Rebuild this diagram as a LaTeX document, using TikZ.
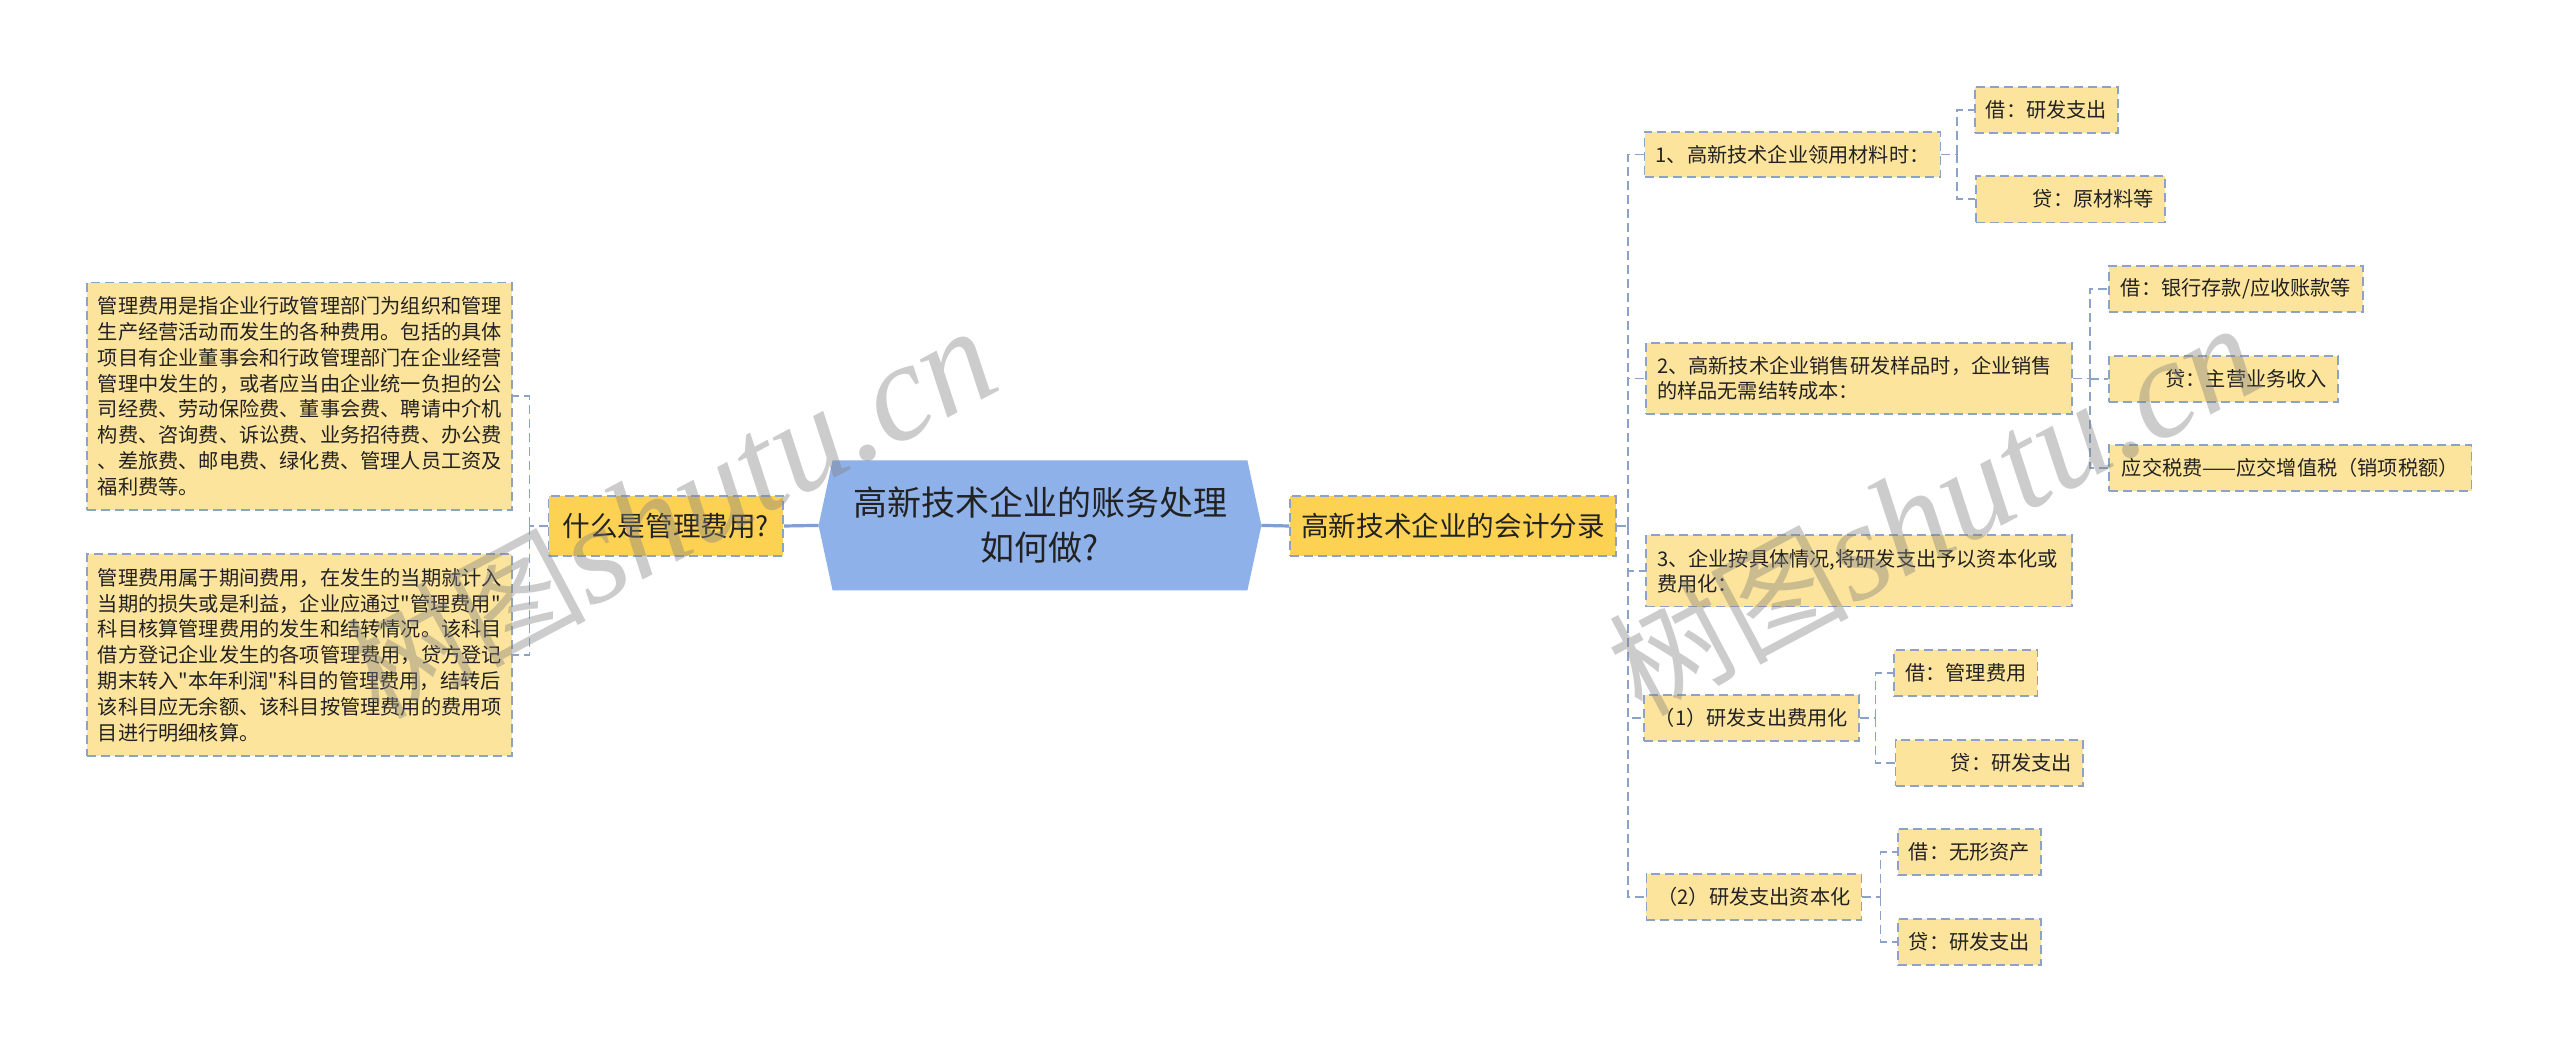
\documentclass[tikz,border=0pt]{standalone}
\usepackage{fontspec}
\setmainfont{Noto Sans CJK SC}[Ligatures=TeXOff]
\newfontfamily\wmlatin{Liberation Serif}
\usetikzlibrary{calc}
\pgfdeclarelayer{bg}
\pgfsetlayers{bg,main}
\definecolor{leaf}{HTML}{FDE49C}
\definecolor{midc}{HTML}{FDD253}
\definecolor{hexc}{HTML}{8EB1EA}
\definecolor{edgec}{HTML}{8CA2C6}
\definecolor{inkc}{HTML}{222222}
\definecolor{mainln}{HTML}{7F9ED2}
\tikzset{
  ebox/.style={draw=edgec, line width=0.85pt, dash pattern=on 4.5pt off 2.5pt, fill=leaf,
    inner xsep=5.5pt, inner ysep=0pt, text=inkc, font=\fontsize{10.1pt}{12.5pt}\selectfont},
  lbox/.style={ebox, font=\fontsize{10.1pt}{12.95pt}\selectfont, align=left},
  twobox/.style={ebox, align=left},
  rbox/.style={ebox, align=right},
  midbox/.style={ebox, fill=midc, font=\fontsize{13.8pt}{16pt}\selectfont},
  hexnode/.style={inner sep=0pt, text=inkc, align=center, font=\fontsize{17pt}{22.5pt}\selectfont,
    minimum width=207pt, minimum height=64.65pt},
  conn/.style={draw=edgec, line width=0.85pt, dash pattern=on 4.5pt off 2.5pt},
  mainconn/.style={draw=mainln, line width=1.6pt},
  wm/.style={text=gray, text opacity=0.4, rotate=28, anchor=base west, inner sep=0pt,
    font=\fontsize{60pt}{60pt}\selectfont},
}
\newcommand{\wmtext}{树图{\wmlatin\itshape\fontsize{70pt}{70pt}\selectfont shutu.cn}}
\begin{document}
\begin{tikzpicture}[x=0.5pt,y=-0.5pt]
\useasboundingbox (0,0) rectangle (2560,1052);

% left side
\node[lbox, text width=201.5pt, minimum height=113.65pt] (A) at (299.3,396.3)
 {管理费用是指企业行政管理部门为组织和管理\\生产经营活动而发生的各种费用。包括的具体\\项目有企业董事会和行政管理部门在企业经营\\管理中发生的，或者应当由企业统一负担的公\\司经费、劳动保险费、董事会费、聘请中介机\\构费、咨询费、诉讼费、业务招待费、办公费\\、差旅费、邮电费、绿化费、管理人员工资及\\福利费等。};
\node[lbox, text width=201.5pt, minimum height=100.85pt] (B) at (299.3,655.2)
 {管理费用属于期间费用，在发生的当期就计入\\当期的损失或是利益，企业应通过"管理费用"\\科目核算管理费用的发生和结转情况。该科目\\借方登记企业发生的各项管理费用，贷方登记\\期末转入"本年利润"科目的管理费用，结转后\\该科目应无余额、该科目按管理费用的费用项\\目进行明细核算。};
\node[midbox, minimum width=117.25pt, minimum height=30pt] (Q) at (665.75,526) {什么是管理费用?};

% center
\node[hexnode] (C) at (1040,525.4) {高新技术企业的账务处理\\如何做?};
\coordinate (CL) at ($(C.west)+(-14,0)$);
\coordinate (CR) at ($(C.east)+(14,0)$);
\begin{pgfonlayer}{bg}
\fill[white] (0,0) rectangle (2560,1052);
\fill[hexc] (C.north west) -- (C.north east) -- (CR) -- (C.south east) -- (C.south west) -- (CL) -- cycle;
\end{pgfonlayer}

% right side
\node[midbox, minimum width=156pt, minimum height=30pt] (K) at (1453,526) {高新技术企业的会计分录};

\node[ebox, minimum width=145.5pt, minimum height=22.8pt] (R1) at (1792.5,154.5) {1、高新技术企业领用材料时：};
\node[ebox, minimum width=70.5pt, minimum height=23pt] (R1a) at (2046.5,109.7) {借：研发支出};
\node[rbox, text width=83.5pt, minimum height=23.3pt] (R1b) at (2070.5,199.3) {贷：原材料等};

\node[twobox, text width=202pt, minimum height=35.8pt] (R2) at (1859,378.5) {2、高新技术企业销售研发样品时，企业销售\\的样品无需结转成本：};
\node[ebox, minimum width=127pt, minimum height=23pt] (R2a) at (2236,288.7) {借：银行存款/应收账款等};
\node[rbox, text width=103.5pt, minimum height=22.9pt] (R2b) at (2223.5,378.8) {贷：主营业务收入};
\node[ebox, minimum width=181.3pt, minimum height=22.9pt] (R2c) at (2290.3,467.8) {应交税费——应交增值税（销项税额）};

\node[twobox, text width=202pt, minimum height=35.8pt] (R3) at (1859,570.8) {3、企业按具体情况,将研发支出予以资本化或\\费用化：};

\node[ebox, minimum width=105.3pt, minimum height=22.9pt] (R4) at (1751.3,717.8) {（1）研发支出费用化};
\node[ebox, minimum width=70.2pt, minimum height=23pt] (R4a) at (1965.8,673) {借：管理费用};
\node[rbox, text width=82.7pt, minimum height=23pt] (R4b) at (1989.3,763) {贷：研发支出};

\node[ebox, minimum width=107.2pt, minimum height=23pt] (R5) at (1753.9,897) {（2）研发支出资本化};
\node[ebox, minimum width=70.5pt, minimum height=23pt] (R5a) at (1969.5,852) {借：无形资产};
\node[ebox, minimum width=70.5pt, minimum height=23pt] (R5b) at (1969.5,942) {贷：研发支出};

% connectors
\coordinate (jl) at (529.6,526);
\draw[conn] (Q.west) -- (jl);
\draw[conn] (jl) |- (A.east);
\draw[conn] (jl) |- (B.east);
\draw[mainconn] (Q.east) -- (CL);
\draw[mainconn] (CR) -- (K.west);

\coordinate (jr) at (1628,526);
\draw[conn] (K.east) -- (jr);
\draw[conn] (jr) |- (R1.west);
\draw[conn] (jr) |- (R2.west);
\draw[conn] (jr) |- (R3.west);
\draw[conn] (jr) |- (R4.west);
\draw[conn] (jr) |- (R5.west);

\coordinate (j1) at (1957,154.5);
\draw[conn] (R1.east) -- (j1);
\draw[conn] (j1) |- (R1a.west);
\draw[conn] (j1) |- (R1b.west);

\coordinate (j2) at (2090,378.5);
\draw[conn] (R2.east) -- (j2);
\draw[conn] (j2) |- (R2a.west);
\draw[conn] (j2) |- (R2b.west);
\draw[conn] (j2) |- (R2c.west);

\coordinate (j4) at (1875.5,717.8);
\draw[conn] (R4.east) -- (j4);
\draw[conn] (j4) |- (R4a.west);
\draw[conn] (j4) |- (R4b.west);

\coordinate (j5) at (1880.5,897);
\draw[conn] (R5.east) -- (j5);
\draw[conn] (j5) |- (R5a.west);
\draw[conn] (j5) |- (R5b.west);

% watermarks
\node[wm] (wm1) at (378,721) {\wmtext};
\node[wm] (wm2) at (1641,718) {\wmtext};
\end{tikzpicture}
\end{document}
